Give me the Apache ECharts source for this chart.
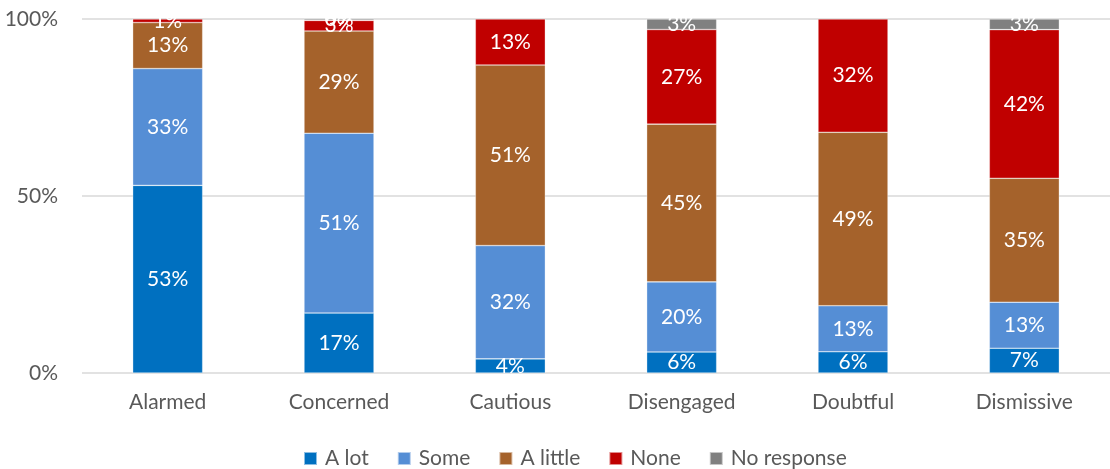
<!DOCTYPE html>
<html>
<head>
<meta charset="utf-8">
<script src="https://cdn.jsdelivr.net/npm/echarts@6/dist/echarts.min.js"></script>
<style>
  html, body { margin: 0; padding: 0; background: #fff; }
  #chart { width: 1110px; height: 469px; }
</style>
</head>
<body>
<div id="chart"></div>
<script>
// Segments, audience groups and percentage shares (rounded as printed)
const categories = ['Alarmed', 'Concerned', 'Cautious', 'Disengaged', 'Doubtful', 'Dismissive'];
const seriesNames = ['A lot', 'Some', 'A little', 'None', 'No response'];
const aLot       = [53, 17, 4, 6, 6, 7];
const some       = [33, 51, 32, 20, 13, 13];
const aLittle    = [13, 29, 51, 45, 49, 35];
const none       = [1, 3, 13, 27, 32, 42];
const noResponse = [null, 0.4, null, 3, null, 3];
const yTicks = ['0%', '50%', '100%'];

const colors = ['#0070C0', '#558ED5', '#A5622B', '#C00000', '#808080'];
const values = [aLot, some, aLittle, none, noResponse];
const font = 'Lato, "Open Sans", sans-serif';

// Each column is drawn as a 100% stack: share of its own total
const totals = categories.map((_, i) =>
  values.reduce((s, arr) => s + (arr[i] == null ? 0 : arr[i]), 0));

const series = seriesNames.map((name, k) => ({
  name,
  type: 'bar',
  stack: 'total',
  barWidth: 70,
  itemStyle: { color: colors[k], borderColor: 'rgba(255,255,255,0.55)', borderWidth: 0.6 },
  label: {
    show: true,
    position: 'inside',
    color: '#fff',
    fontFamily: font,
    fontSize: 21,
    formatter: p => Math.round(values[k][p.dataIndex]) + '%'
  },
  data: values[k].map((v, i) => v == null ? null : v / totals[i] * 100)
}));

const chart = echarts.init(document.getElementById('chart'), null, { renderer: 'canvas' });
chart.setOption({
  animation: false,
  color: colors,
  grid: { left: 82, top: 19, width: 1041, height: 354, containLabel: false },
  legend: {
    top: 448,
    left: 303,
    icon: 'rect',
    itemWidth: 13,
    itemHeight: 13,
    itemGap: 28,
    padding: 0,
    textStyle: { color: '#595959', fontFamily: font, fontSize: 21, padding: [0, 0, 0, 3] },
    data: seriesNames
  },
  xAxis: {
    type: 'category',
    data: categories,
    axisLine: { show: false },
    axisTick: { show: false },
    axisLabel: { color: '#595959', fontFamily: font, fontSize: 21, margin: 19 }
  },
  yAxis: {
    type: 'value',
    min: 0,
    max: 100,
    interval: 50,
    axisLine: { show: false },
    axisTick: { show: false },
    splitLine: { lineStyle: { color: '#D9D9D9', width: 1.5 } },
    axisLabel: {
      color: '#595959', fontFamily: font, fontSize: 21, margin: 24,
      formatter: v => yTicks[Math.round(v / 50)]
    }
  },
  series
});
</script>
</body>
</html>
